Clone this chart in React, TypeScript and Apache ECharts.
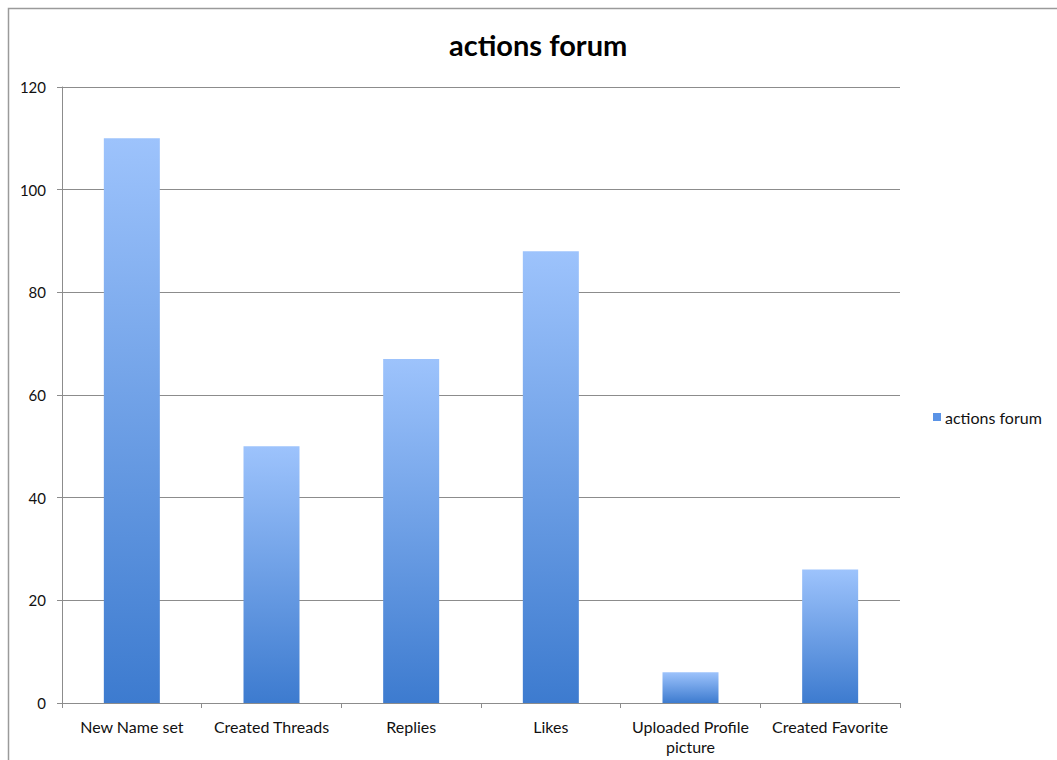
import React, { useEffect, useRef } from "react";
import * as echarts from "echarts";

const categories = [
  "New Name set",
  "Created Threads",
  "Replies",
  "Likes",
  "Uploaded Profile\npicture",
  "Created Favorite",
];
const seriesName = "actions forum";
const values = [110, 50, 67, 88, 6, 26];
const yTicks = { min: 0, max: 120, interval: 20 };

const FONT = "Lato, 'Open Sans', sans-serif";

export default function App() {
  const ref = useRef<HTMLDivElement>(null);
  useEffect(() => {
    document.body.style.margin = "0";
    const chart = echarts.init(ref.current!, undefined, { renderer: "svg" });
    chart.setOption({
      animation: false,
      backgroundColor: "#ffffff",
      title: {
        text: seriesName,
        left: 449,
        top: 30,
        padding: 0,
        textStyle: { fontFamily: FONT, fontSize: 29, fontWeight: "bold", color: "#000" },
      },
      legend: {
        data: [{ name: seriesName, itemStyle: { color: "#5a93e6" } }],
        left: 933,
        top: 408,
        padding: 0,
        itemWidth: 8,
        itemHeight: 8,
        itemGap: 5,
        icon: "rect",
        textStyle: { fontFamily: FONT, fontSize: 16, color: "#111", lineHeight: 18, padding: [0, 0, 0, -1] },
      },
      grid: { left: 62, right: 157, top: 87, bottom: 57, containLabel: false },
      xAxis: {
        type: "category",
        data: categories,
        axisLine: { lineStyle: { color: "#8c8c8c", width: 1 } },
        axisTick: { show: true, alignWithLabel: false, length: 5, lineStyle: { color: "#8c8c8c" } },
        axisLabel: {
          fontFamily: FONT,
          fontSize: 16,
          color: "#111",
          margin: 13,
          lineHeight: 20,
          interval: 0,
        },
      },
      yAxis: {
        type: "value",
        min: yTicks.min,
        max: yTicks.max,
        interval: yTicks.interval,
        axisLine: { show: true, lineStyle: { color: "#8c8c8c", width: 1 } },
        axisTick: { show: true, length: 5, lineStyle: { color: "#8c8c8c" } },
        axisLabel: { fontFamily: FONT, fontSize: 15, color: "#111", margin: 16 },
        splitLine: { show: true, lineStyle: { color: "#8c8c8c", width: 1 } },
      },
      series: [
        {
          name: seriesName,
          type: "bar",
          data: values,
          barWidth: 56,
          itemStyle: {
            color: new echarts.graphic.LinearGradient(0, 0, 0, 1, [
              { offset: 0, color: "#9dc3fc" },
              { offset: 1, color: "#3d7bcf" },
            ]),
          },
        },
      ],
      graphic: [
        {
          type: "rect",
          shape: { x: 8.5, y: 8.5, width: 1100, height: 800 },
          style: { fill: "none", stroke: "#9a9a9a", lineWidth: 1.5 },
          silent: true,
        },
      ],
    });
    return () => chart.dispose();
  }, []);
  return <div ref={ref} style={{ width: 1057, height: 760 }} />;
}
